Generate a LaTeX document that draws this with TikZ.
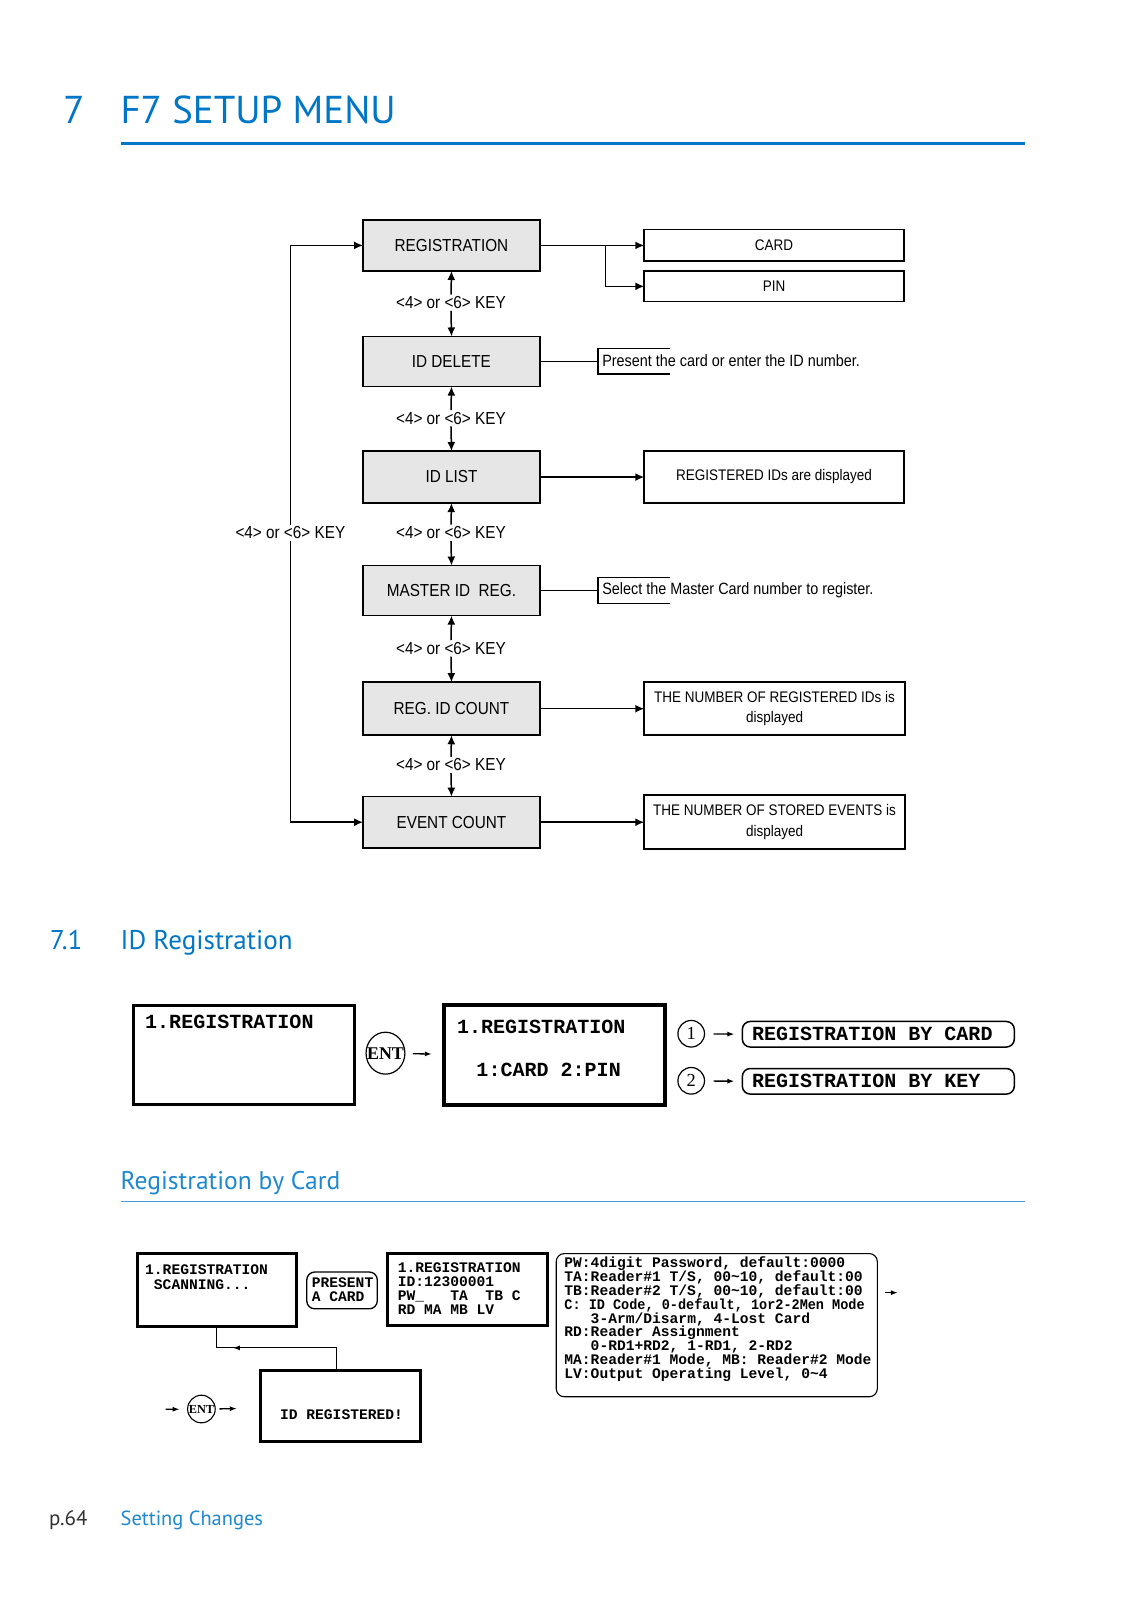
\documentclass[tikz,border=0pt]{standalone}
\usepackage{fontspec}
\setmainfont{Liberation Sans}
\newfontfamily\flowfont[FakeStretch=0.88]{Liberation Sans}
\newfontfamily\headfont{PT Sans}
\newfontfamily\lcdfont{Liberation Mono}
\newfontfamily\entfont{Liberation Serif}
\usetikzlibrary{arrows.meta,decorations.markings,shapes.geometric}
\definecolor{titleblue}{RGB}{0,118,199}
\definecolor{subblue}{RGB}{30,136,208}
\definecolor{lineblue}{RGB}{70,155,215}
\definecolor{boxgray}{RGB}{230,230,230}
\definecolor{footgray}{RGB}{50,50,50}
\begin{document}
\begin{tikzpicture}[x=1pt,y=-1pt,scale=1.0225,
  every node/.style={inner sep=0pt,outer sep=0pt,transform shape},
  fl/.style={font=\flowfont\fontsize{17}{20}\selectfont},
  fls/.style={font=\flowfont\fontsize{15}{20}\selectfont},
  gbox/.style={draw,fill=boxgray,line width=1.7,minimum width=173,fl},
  wbox/.style={draw,line width=1.7,minimum width=254,fls,align=center},
  keylbl/.style={fl,fill=white,inner sep=2pt},
  note/.style={font=\flowfont\fontsize{16}{20}\selectfont,anchor=west},
  arr/.style={line width=1.5,-{Latex[length=9,width=8]}},
  conn/.style={line width=1.5},
  smallarr/.style={line width=1.3,-{Latex[length=7,width=5]}},
  lcdbig/.style={font=\lcdfont\bfseries\fontsize{19.6}{22}\selectfont},
  lcdsmall/.style={font=\lcdfont\bfseries\fontsize{14.3}{13.5}\selectfont},
  lcdbox/.style={draw,line width=3},
  rbox/.style={draw,line width=1.3,rounded corners=8},
  headtxt/.style={anchor=base west,text=titleblue},
]
\useasboundingbox[fill=white] (0,0) rectangle (1117.85,1564.8);

% ---------- headings ----------
\node[headtxt,font=\headfont\fontsize{38}{38}\selectfont] (secnum) at (62,121) {7};
\node[headtxt,font=\headfont\fontsize{38}{38}\selectfont] (title) at (118,121) {F7 SETUP MENU};
\draw[titleblue,line width=3] (118,140) -- (1002,140);

% ---------- flowchart ----------
\node[gbox,minimum height=50] (reg)    at (441.5,240)   {REGISTRATION};
\node[gbox,minimum height=49] (del)    at (441.5,353.5) {ID DELETE};
\node[gbox,minimum height=51] (list)   at (441.5,466.5) {ID LIST};
\node[gbox,minimum height=49] (master) at (441.5,577.5) {MASTER ID\ \ REG.};
\node[gbox,minimum height=52] (count)  at (441.5,693)   {REG. ID COUNT};
\node[gbox,minimum height=50] (evt)    at (441.5,804)   {EVENT COUNT};

\node[wbox,minimum height=31] (card) at (757,240) {CARD};
\node[wbox,minimum height=30] (pin)  at (757,280) {PIN};
\node[wbox,minimum height=51] (listres) at (757,466.5) {REGISTERED IDs are displayed};
\node[wbox,minimum width=255,minimum height=52] (countres) at (757.5,693) {THE NUMBER OF REGISTERED IDs is\\displayed};
\node[wbox,minimum width=255,minimum height=53] (evtres) at (757.5,804) {THE NUMBER OF STORED EVENTS is\\displayed};

\node[keylbl] (k1) at (441,296) {<4> or <6> KEY};
\node[keylbl] (k2) at (441,409) {<4> or <6> KEY};
\node[keylbl] (k3) at (441,521) {<4> or <6> KEY};
\node[keylbl] (k4) at (441,634) {<4> or <6> KEY};
\node[keylbl] (k5) at (441,748) {<4> or <6> KEY};
\node[keylbl] (kl) at (284,521) {<4> or <6> KEY};

\foreach \k/\a/\b in {k1/reg/del,k2/del/list,k3/list/master,k4/master/count,k5/count/evt}{
  \draw[arr] (\k.north) -- (\a.south);
  \draw[arr] (\k.south) -- (\b.north);
}
\draw[arr] (kl.north) |- (reg.west);
\draw[arr] (kl.south) |- (evt.west);

\coordinate (br) at (592,240);
\draw[arr] (reg.east) -- (card.west);
\draw[arr] (br) |- (pin.west);
\draw[arr] (list.east) -- (listres.west);
\draw[arr] (count.east) -- (countres.west);
\draw[arr] (evt.east) -- (evtres.west);

% brackets with notes
\node[note] (note1) at (589,353) {Present the card or enter the ID number.};
\coordinate (b1) at (585,353.5);
\draw[conn] (del.east) -- (b1);
\draw[conn] (655,341) -- (585,341) -- (585,366) -- (655,366);
\node[note] (note2) at (589,577.5) {Select the Master Card number to register.};
\coordinate (b2) at (585,577.5);
\draw[conn] (master.east) -- (b2);
\draw[conn] (655,565) -- (585,565) -- (585,590) -- (655,590);

% ---------- 7.1 ----------
\node[headtxt,font=\headfont\fontsize{26.5}{26.5}\selectfont] (subnum) at (49,929) {7.1};
\node[headtxt,font=\headfont\fontsize{26.5}{26.5}\selectfont] (subtitle) at (118,929) {ID Registration};

% row 1
\node[lcdbox,minimum width=216,minimum height=97] (lcd1) at (239,1031.5) {};
\node[lcdbig,anchor=base west] (lcd1t) at (142,1006) {1.REGISTRATION};
\node[draw,ellipse,line width=1.2,minimum width=38,minimum height=41] (ent1) at (377,1030) {};
\node[font=\entfont\bfseries\fontsize{17.5}{17.5}\selectfont] (ent1t) at (377,1030) {ENT};
\node[lcdbox,line width=4,minimum width=216,minimum height=98] (lcd2) at (542,1032) {};
\node[lcdbig,anchor=base west] (lcd2a) at (447,1011) {1.REGISTRATION};
\node[lcdbig,anchor=base west] (lcd2b) at (466,1053) {1:CARD 2:PIN};
\draw[smallarr,shorten <=8,shorten >=12] (ent1) -- (lcd2);

\node[draw,circle,line width=1.2,minimum size=26,font=\entfont\fontsize{18}{18}\selectfont] (c1) at (676,1011) {1};
\node[draw,circle,line width=1.2,minimum size=26,font=\entfont\fontsize{18}{18}\selectfont] (c2) at (676,1057) {2};
\node[rbox,line width=1.5,minimum width=266,minimum height=25,lcdbig] (rb1) at (859,1011.5) {REGISTRATION BY CARD\hphantom{Y}};
\node[rbox,line width=1.5,minimum width=266,minimum height=25,lcdbig] (rb2) at (859,1057.5) {REGISTRATION BY KEY\hphantom{YY}};
\draw[smallarr,shorten <=9,shorten >=8] (c1) -- (rb1);
\draw[smallarr,shorten <=9,shorten >=8] (c2) -- (rb2);

% ---------- Registration by Card ----------
\node[anchor=base west,text=subblue,font=\headfont\fontsize{25}{25}\selectfont] (regcard) at (118,1163) {Registration by Card};
\draw[lineblue,line width=1.8] (118,1175) -- (1002,1175);

% row 2
\node[lcdbox,minimum width=156,minimum height=71] (A) at (212,1261.5) {};
\node[lcdsmall,anchor=base west] (A1) at (142,1246) {1.REGISTRATION};
\node[lcdsmall,anchor=base west] (A2) at (142,1261) {~SCANNING...};

\node[rbox,minimum width=69,minimum height=36] (P) at (334.5,1262) {};
\node[lcdsmall,anchor=base west] (P1) at (305,1259) {PRESENT};
\node[lcdsmall,anchor=base west] (P2) at (305,1273) {A CARD};

\node[lcdbox,minimum width=156,minimum height=70] (B) at (457,1261) {};
\node[lcdsmall,anchor=base west] (B1) at (389,1244) {1.REGISTRATION};
\node[lcdsmall,anchor=base west] (B2) at (389,1258) {ID:12300001};
\node[lcdsmall,anchor=base west] (B3) at (389,1272) {PW\_~~~TA~~TB~C};
\node[lcdsmall,anchor=base west] (B4) at (389,1286) {RD MA MB LV};

\node[rbox,line width=1.1,minimum width=314,minimum height=140] (C) at (701,1296) {};
\node[lcdsmall,anchor=base west] (C1) at (552,1240)   {PW:4digit Password, default:0000};
\node[lcdsmall,anchor=base west] (C2) at (552,1253.5) {TA:Reader\#1 T/S, 00\textasciitilde10, default:00};
\node[lcdsmall,anchor=base west] (C3) at (552,1267)   {TB:Reader\#2 T/S, 00\textasciitilde10, default:00};
\node[lcdsmall,anchor=base west,xscale=0.925] (C4) at (552,1280.5) {C: ID Code, 0-default, 1or2-2Men Mode};
\node[lcdsmall,anchor=base west] (C5) at (552,1294)   {~~~3-Arm/Disarm, 4-Lost Card};
\node[lcdsmall,anchor=base west] (C6) at (552,1307.5) {RD:Reader Assignment};
\node[lcdsmall,anchor=base west] (C7) at (552,1321)   {~~~0-RD1+RD2, 1-RD1, 2-RD2};
\node[lcdsmall,anchor=base west] (C8) at (552,1334.5) {MA:Reader\#1 Mode, MB: Reader\#2 Mode};
\node[lcdsmall,anchor=base west] (C9) at (552,1348)   {LV:Output Operating Level, 0\textasciitilde4};
\coordinate (cs) at (865,1264);
\coordinate (ce) at (878,1264);
\draw[smallarr] (cs) -- (ce);

\node[lcdbox,minimum width=156,minimum height=70] (D) at (333,1375) {};
\node[lcdsmall,anchor=base] (D1) at (334,1388) {ID REGISTERED!};
\draw[line width=1.1,decoration={markings,mark=at position 0.77 with {\arrow{Latex[length=7,width=5]}}},postaction={decorate}]
  ([xshift=-4]D.north) -- ++(0,-22) -| (A.south);

\node[draw,ellipse,line width=1.1,minimum width=27,minimum height=27] (ent2) at (197,1378) {};
\node[font=\entfont\bfseries\fontsize{12}{12}\selectfont] (ent2t) at (197,1378) {ENT};
\coordinate (e2in) at (162,1378);
\draw[smallarr,shorten >=8] (e2in) -- (ent2);
\draw[smallarr,shorten <=4,shorten >=24] (ent2) -- (D);

% ---------- footer ----------
\node[anchor=base west,text=footgray,font=\headfont\fontsize{20.5}{20.5}\selectfont] (page) at (48,1492) {p.64};
\node[anchor=base west,text=subblue,font=\headfont\fontsize{20}{20}\selectfont] (foot) at (118,1492) {Setting Changes};
\end{tikzpicture}
\end{document}
